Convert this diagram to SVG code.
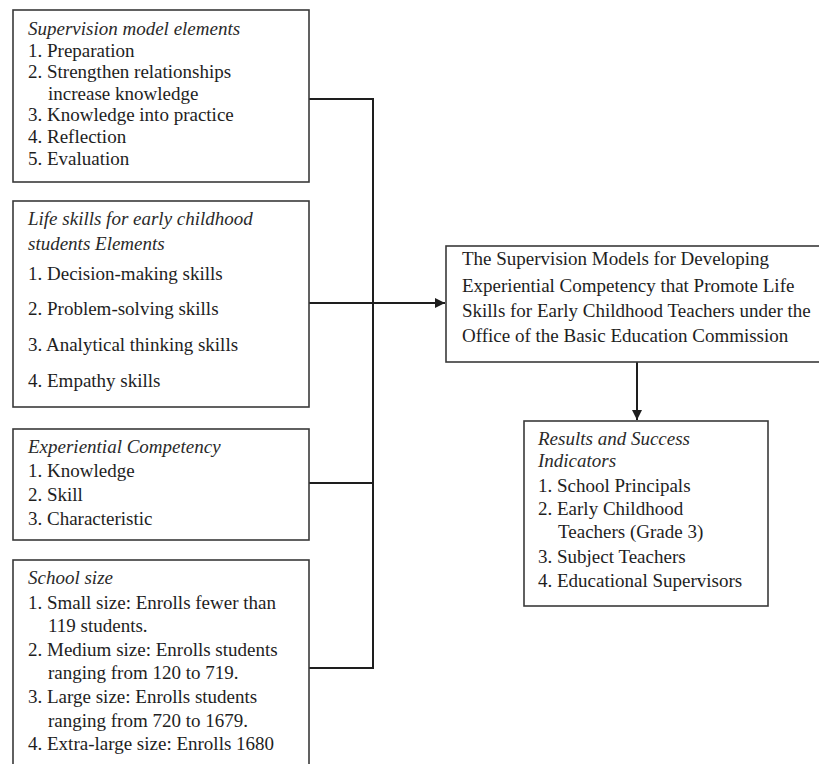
<svg xmlns="http://www.w3.org/2000/svg" width="819" height="764" viewBox="0 0 819 764">
<defs>
<style>
.box{fill:#fff;stroke:#3a3a3a;stroke-width:1.6}
text{font-family:"Liberation Serif","Times New Roman",serif;font-size:19px;fill:#1e1e1e}
.t{font-style:italic;fill:#2a2a2a}
.c{fill:none;stroke:#1e1e1e;stroke-width:2}
</style>
<marker id="ah" viewBox="0 0 10 10" refX="10" refY="5" markerWidth="10" markerHeight="10" markerUnits="userSpaceOnUse" orient="auto">
<path d="M0,0 L10,5 L0,10 z" fill="#1e1e1e"/>
</marker>
</defs>
<rect width="819" height="764" fill="#fff"/>
<g id="connectors">
<path class="c" d="M309,99 H373 V668 H309"/>
<path class="c" d="M309,303 H445" marker-end="url(#ah)"/>
<path class="c" d="M309,483 H373"/>
<path class="c" d="M637,362 V420" marker-end="url(#ah)"/>
</g>
<g id="supervision">
<rect class="box" x="13" y="10" width="296" height="172"/>
<text class="t" x="28" y="35">Supervision model elements</text>
<text x="28" y="57">1. Preparation</text>
<text x="28" y="78">2. Strengthen relationships</text>
<text x="48" y="100">increase knowledge</text>
<text x="28" y="121">3. Knowledge into practice</text>
<text x="28" y="143">4. Reflection</text>
<text x="28" y="165">5. Evaluation</text>
</g>
<g id="lifeskills">
<rect class="box" x="13" y="201" width="296" height="206"/>
<text class="t" x="28" y="225">Life skills for early childhood</text>
<text class="t" x="28" y="250">students Elements</text>
<text x="28" y="280">1. Decision-making skills</text>
<text x="28" y="315">2. Problem-solving skills</text>
<text x="28" y="351">3. Analytical thinking skills</text>
<text x="28" y="387">4. Empathy skills</text>
</g>
<g id="competency">
<rect class="box" x="13" y="429" width="296" height="111"/>
<text class="t" x="28" y="453">Experiential Competency</text>
<text x="28" y="477">1. Knowledge</text>
<text x="28" y="501">2. Skill</text>
<text x="28" y="525">3. Characteristic</text>
</g>
<g id="schoolsize">
<rect class="box" x="13" y="560" width="296" height="215"/>
<text class="t" x="28" y="584">School size</text>
<text x="28" y="609">1. Small size: Enrolls fewer than</text>
<text x="48" y="632">119 students.</text>
<text x="28" y="656">2. Medium size: Enrolls students</text>
<text x="48" y="679">ranging from 120 to 719.</text>
<text x="28" y="703">3. Large size: Enrolls students</text>
<text x="48" y="727">ranging from 720 to 1679.</text>
<text x="28" y="750">4. Extra-large size: Enrolls 1680</text>
</g>
<g id="model">
<rect class="box" x="446" y="246" width="380" height="116"/>
<text x="462" y="265">The Supervision Models for Developing</text>
<text x="462" y="292">Experiential Competency that Promote Life</text>
<text x="462" y="317">Skills for Early Childhood Teachers under the</text>
<text x="462" y="342">Office of the Basic Education Commission</text>
</g>
<g id="results">
<rect class="box" x="524" y="421" width="244" height="185"/>
<text class="t" x="538" y="445">Results and Success</text>
<text class="t" x="538" y="467">Indicators</text>
<text x="538" y="492">1. School Principals</text>
<text x="538" y="515">2. Early Childhood</text>
<text x="558" y="538">Teachers (Grade 3)</text>
<text x="538" y="563">3. Subject Teachers</text>
<text x="538" y="587">4. Educational Supervisors</text>
</g>
</svg>
